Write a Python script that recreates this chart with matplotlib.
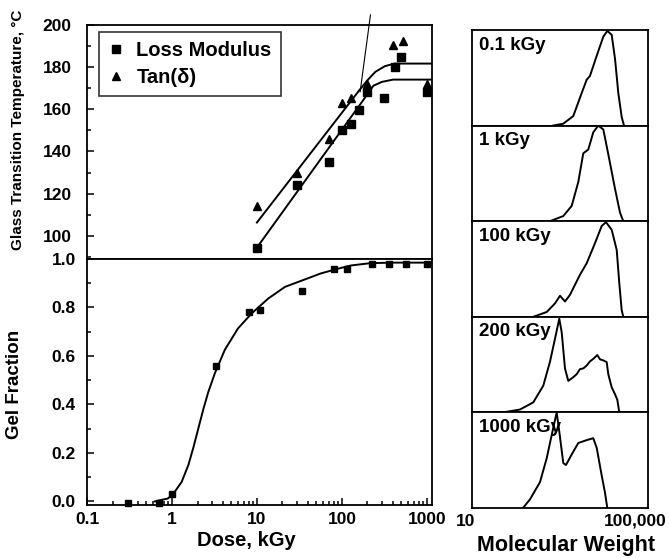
import numpy as np
import matplotlib
matplotlib.use('Agg')
import matplotlib.pyplot as plt
import matplotlib.transforms as mtransforms
from matplotlib.ticker import MultipleLocator, FixedLocator, LogLocator, NullFormatter, NullLocator

plt.rcParams['font.family'] = ['Liberation Sans', 'DejaVu Sans']
plt.rcParams['font.weight'] = 'bold'

# glass transition vs dose
loss_dose = [10, 30, 70, 100, 128, 160, 200, 310, 420, 500, 1000]
loss_tg = [94, 124, 135, 150, 153, 159.5, 168, 165.6, 180, 185, 168]
tan_dose = [10, 30, 70, 100, 128, 200, 400, 525, 1000]
tan_tg = [114, 130, 146, 163, 165.5, 172, 190.5, 192.5, 172]

tan_fit_dose = [10, 160, 200, 248, 322, 420, 1150]
tan_fit_tg = [106.3, 169, 173.8, 177.8, 180.5, 181.7, 181.7]
loss_fit_dose = [10, 190, 235, 295, 400, 1150]
loss_fit_tg = [94.4, 165.9, 171.2, 173, 174.1, 174.1]

stray_dose = [164, 217]
stray_tg = [168.3, 204.8]

# gel fraction vs dose
gel_dose = [0.3, 0.7, 1.0, 3.3, 8, 11, 34, 80, 115, 224, 355, 575, 1000]
gel_frac = [-0.005, -0.005, 0.03, 0.56, 0.78, 0.79, 0.87, 0.957, 0.957, 0.98, 0.98, 0.98, 0.98]

gel_fit_dose = [0.63, 0.9, 1.08, 1.3, 1.56, 1.78, 2.04, 2.34, 2.67, 3.21, 4.2, 6.0, 8.7, 13.6,
                21.4, 35, 56, 90, 126, 218, 400, 1150]
gel_fit_frac = [0.0, 0.012, 0.04, 0.08, 0.15, 0.22, 0.30, 0.38, 0.45, 0.53, 0.626, 0.714, 0.776, 0.837,
                0.885, 0.913, 0.94, 0.96, 0.973, 0.983, 0.985, 0.985]

# molecular weight distributions
mw_labels = ['0.1 kGy', '1 kGy', '100 kGy', '200 kGy', '1000 kGy']
mw_01 = [1146, 2009, 3465, 5470, 7190, 8610, 12400, 17780, 22100, 28060, 33630, 40270, 48400, 54930]
h_01 = [0, 0.02, 0.10, 0.34, 0.48, 0.52, 0.73, 0.93, 0.99, 0.95, 0.70, 0.34, 0.09, 0]
mw_1 = [973, 2009, 3175, 4550, 5970, 7850, 10300, 13500, 17780, 23330, 33630, 44130, 52840]
h_1 = [0, 0.054, 0.16, 0.41, 0.71, 0.75, 0.93, 1.0, 0.96, 0.70, 0.34, 0.09, 0]
mw_100 = [392, 813, 1278, 1679, 2203, 2895, 4990, 7190, 11300, 16290, 20600, 28060, 36900, 42500, 48400, 52840]
h_100 = [0, 0.05, 0.14, 0.22, 0.16, 0.23, 0.44, 0.56, 0.77, 0.95, 0.99, 0.91, 0.70, 0.35, 0.07, 0]
mw_200 = [75, 190, 392, 676, 973, 1278, 1616, 1841, 2203, 2637, 3465, 4170, 4990, 5970, 7190, 8610,
          10300, 12820, 14850, 17780, 21380, 23330, 28060, 33630, 38110, 42500]
h_200 = [0, 0.03, 0.105, 0.28, 0.53, 0.77, 0.98, 0.84, 0.46, 0.33, 0.368, 0.40, 0.453, 0.46, 0.49, 0.534,
         0.56, 0.60, 0.555, 0.544, 0.526, 0.40, 0.263, 0.19, 0.133, 0]
mw_1000 = [223, 327, 564, 813, 1165, 1402, 1616, 2009, 2328, 3175, 4550, 7190, 10300, 12400, 16290, 19500, 22100]
h_1000 = [0, 0.09, 0.27, 0.52, 0.84, 1.0, 0.80, 0.47, 0.45, 0.56, 0.68, 0.71, 0.73, 0.63, 0.34, 0.16, 0]

mw_curves = [(mw_01, h_01), (mw_1, h_1), (mw_100, h_100), (mw_200, h_200), (mw_1000, h_1000)]

W, H = 670, 558
fig = plt.figure(figsize=(6.7, 5.58), dpi=100)

lw_frame = 1.3
xl = (0.1, 1150)

def fx(px):
    return px / W

def fy(py):
    return 1 - py / H

ax1 = fig.add_axes([fx(87), fy(259), (432 - 87) / W, (259 - 25) / H])
ax2 = fig.add_axes([fx(87), fy(505), (432 - 87) / W, (505 - 259) / H])

for a in (ax1, ax2):
    a.set_xscale('log')
    a.set_xlim(xl)
    for s in a.spines.values():
        s.set_linewidth(lw_frame)
    a.tick_params(which='both', direction='in', width=1.1, labelsize=12.5, right=False, top=False)
    a.tick_params(which='major', length=5)
    a.tick_params(which='minor', length=3)

# top panel
ax1.plot(tan_fit_dose, tan_fit_tg, 'k-', lw=1.4)
ax1.plot(loss_fit_dose, loss_fit_tg, 'k-', lw=1.4)
ax1.plot(stray_dose, stray_tg, 'k-', lw=0.8, clip_on=False)
ax1.plot(loss_dose, loss_tg, 'ks', ms=5.5, label='Loss Modulus', clip_on=False)
ax1.plot(tan_dose, tan_tg, 'k^', ms=6, label='Tan(δ)', clip_on=False)
ax1.set_ylim(89, 200)
ax1.yaxis.set_major_locator(FixedLocator([100, 120, 140, 160, 180, 200]))
ax1.yaxis.set_minor_locator(MultipleLocator(10))
ax1.tick_params(axis='y', pad=11)
ax1.tick_params(axis='x', which='both', bottom=False, labelbottom=False)
leg = ax1.legend(loc='upper left', bbox_to_anchor=(0.035, 0.97), fontsize=14.5, frameon=True,
                 fancybox=False, edgecolor='black', handlelength=0.8, handletextpad=0.6,
                 labelspacing=0.4, borderpad=0.45, borderaxespad=0)
leg.get_frame().set_linewidth(1.2)
for t in leg.get_texts():
    t.set_fontweight('bold')

# bottom panel
ax2.plot(gel_fit_dose, gel_fit_frac, 'k-', lw=1.4)
ax2.plot(gel_dose, gel_frac, 'ks', ms=4, clip_on=False)
ax2.set_ylim(-0.015, 1.0)
ax2.yaxis.set_major_locator(FixedLocator([0.0, 0.2, 0.4, 0.6, 0.8, 1.0]))
ax2.yaxis.set_minor_locator(MultipleLocator(0.1))
ax2.set_yticklabels(['0.0', '0.2', '0.4', '0.6', '0.8', '1.0'])
ax2.xaxis.set_major_locator(FixedLocator([0.1, 1, 10, 100, 1000]))
ax2.xaxis.set_minor_locator(LogLocator(base=10, subs=np.arange(2, 10)))
ax2.xaxis.set_minor_formatter(NullFormatter())
ax2.set_xticklabels(['0.1', '1', '10', '100', '1000'])
ax2.tick_params(axis='y', pad=8)
ax2.tick_params(axis='x', pad=5)

fig.text(fx(18), fy(130), 'Glass Transition Temperature, °C', rotation=90, ha='center', va='center',
         fontsize=11, fontweight='bold')
fig.text(fx(15), fy(384), 'Gel Fraction', rotation=90, ha='center', va='center',
         fontsize=13.5, fontweight='bold')
fig.text(fx(246), fy(541), 'Dose, kGy', ha='center', va='center', fontsize=14.5, fontweight='bold')

# right panels
top, bot = 30, 508
ph = (bot - top) / 5.0
rax = []
for i in range(5):
    y0 = top + ph * (i + 1)
    a = fig.add_axes([fx(472), fy(y0), (648 - 472) / W, ph / H])
    m, h = mw_curves[i]
    a.plot(m, h, 'k-', lw=1.4)
    a.set_xscale('log')
    a.set_xlim(13.9, 2.03e5)
    a.set_ylim(0, 1.0)
    a.xaxis.set_major_locator(NullLocator())
    a.xaxis.set_minor_locator(NullLocator())
    a.yaxis.set_major_locator(NullLocator())
    for s in a.spines.values():
        s.set_linewidth(lw_frame)
    a.text(0.04, 0.93, mw_labels[i], transform=a.transAxes, ha='left', va='top',
           fontsize=13.5, fontweight='bold')
    rax.append(a)

last = rax[-1]
tr = mtransforms.blended_transform_factory(last.transData, last.transAxes)
last.text(10, -0.14, '10', transform=tr, ha='center', va='center', fontsize=12.5, fontweight='bold')
last.text(1e5, -0.14, '100,000', transform=tr, ha='center', va='center', fontsize=12.5, fontweight='bold')
fig.text(fx(566), fy(546), 'Molecular Weight', ha='center', va='center', fontsize=15.5, fontweight='bold')

plt.savefig('out.png', dpi=100)
